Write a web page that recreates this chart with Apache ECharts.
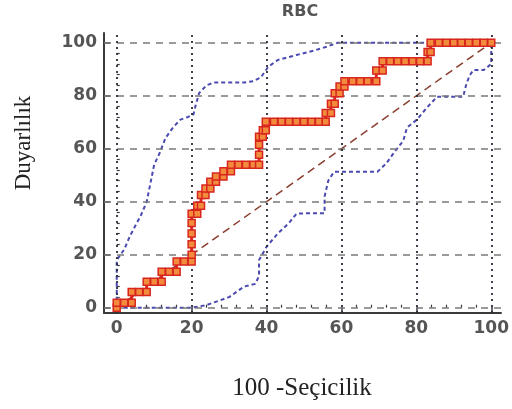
<!DOCTYPE html>
<html>
<head>
<meta charset="utf-8">
<script src="https://cdn.jsdelivr.net/npm/echarts@6/dist/echarts.min.js"></script>
<style>
  html, body { margin: 0; padding: 0; background: #ffffff; }
  #chart { width: 512px; height: 409px; }
</style>
</head>
<body>
<div id="chart"></div>
<script>
// Tick positions
const majorTicks = [0, 20, 40, 60, 80, 100];
const minorTicks = [4, 8, 12, 16, 24, 28, 32, 36, 44, 48, 52, 56, 64, 68, 72, 76, 84, 88, 92, 96];

// ROC curve for RBC: [100 - specificity, sensitivity]
const rocCurve = [
  [0, 0], [0, 1.9], [2, 1.9], [4, 1.9], [4, 5.9], [6, 5.9], [8, 5.9], [8, 9.8], [10, 9.8], [12, 9.8],
  [12, 13.6], [14, 13.6], [16, 13.6], [16, 17.4], [18, 17.4], [20, 17.4], [20, 20], [20, 24], [20, 28],
  [20, 32], [20, 35.5], [21.5, 35.5], [21.5, 38.5], [22.5, 38.5], [22.5, 42.5], [23.7, 42.5], [23.7, 45],
  [25, 45], [25, 47.5], [26.5, 47.5], [26.5, 49.5], [28.5, 49.5], [28.5, 51.5], [30.5, 51.5], [30.5, 54],
  [32.5, 54], [34.5, 54], [36.5, 54], [38, 54], [38, 57.7], [38, 61.5], [38, 64.5], [39, 64.5], [39, 67],
  [39.8, 67], [39.8, 70.2], [42, 70.2], [44, 70.2], [46, 70.2], [48, 70.2], [50, 70.2], [52, 70.2],
  [54, 70.2], [55.8, 70.2], [55.8, 73.5], [57.2, 73.5], [57.2, 77], [58.2, 77], [58.2, 81], [59.5, 81],
  [59.5, 83.5], [60.8, 83.5], [60.8, 85.5], [63, 85.5], [65, 85.5], [67, 85.5], [69.3, 85.5], [69.3, 89.5],
  [71, 89.5], [71, 93], [73, 93], [75, 93], [77, 93], [79, 93], [81, 93], [83, 93], [83, 96.5],
  [83.8, 96.5], [83.8, 100], [86, 100], [88, 100], [90, 100], [92, 100], [94, 100], [96, 100],
  [98, 100], [100, 100]
];

// 95% confidence bounds
const upperBound = [
  [0, 0], [0, 9], [0, 18], [2, 22], [3.5, 27], [5, 31], [6.5, 35], [8, 40], [9, 47], [10, 54],
  [11.5, 58.5], [13, 64], [15, 68], [17, 71], [19, 72], [20.5, 73], [21, 76], [22, 81], [24, 84],
  [26, 85], [30, 85], [34, 85], [36.5, 85.5], [38.5, 87], [40.5, 91], [43, 93.5], [48, 95.4],
  [53, 97.2], [56, 98.5], [59, 100], [100, 100]
];
const lowerBound = [
  [0, 0], [10, 0], [20, 0], [22, 0.5], [24, 1], [27, 2.5], [30, 4], [34, 8], [37, 9], [38, 12],
  [38, 18], [40, 23], [43, 28], [46, 32], [48, 35.5], [52, 35.7], [55.5, 35.7], [55.5, 42],
  [56.5, 48], [58, 51.3], [62, 51.3], [66, 51.3], [69.6, 51.3], [72, 54.5], [74, 58.5], [76.5, 63],
  [77.5, 68], [80, 70.8], [83, 75.8], [85.5, 79.6], [90, 79.6], [92.5, 79.6], [93.4, 84.7],
  [94.3, 87.8], [95.2, 89.7], [98, 89.7], [100, 92], [100, 100]
];

// Reference line of no discrimination
const diagonal = [[0, 0], [100, 100]];

const xMin = -3.4, xMax = 102.6;
const yMin = -2, yMax = 103.7;

const labelFont = { fontFamily: 'DejaVu Sans', fontWeight: 'bold', fontSize: 17, color: '#555' };
const axisColor = '#3a3a3a';

function mainAxis(min, max, extra) {
  return Object.assign({
    type: 'value', min: min, max: max,
    axisLine: { show: true, onZero: false, lineStyle: { color: axisColor, width: 2 } },
    axisTick: { show: true, inside: true, length: 6, customValues: majorTicks,
                lineStyle: { color: axisColor, width: 1.5 } },
    axisLabel: Object.assign({ customValues: majorTicks, margin: 7 }, labelFont),
    splitLine: { show: false }
  }, extra);
}
function minorAxis(min, max, extra) {
  return Object.assign({
    type: 'value', min: min, max: max, offset: 0,
    axisLine: { show: false },
    axisTick: { show: true, inside: true, length: 3, customValues: minorTicks,
                lineStyle: { color: axisColor, width: 1.2 } },
    axisLabel: { show: false },
    splitLine: { show: false }
  }, extra);
}

const hGrid = majorTicks.map(v => [{ coord: [xMin, v] }, { coord: [xMax, v] }]);
const vGrid = majorTicks.map(v => [{ coord: [v, yMin] }, { coord: [v, yMax] }]);

const chart = echarts.init(document.getElementById('chart'), null, { renderer: 'canvas' });
chart.setOption({
  animation: false,
  backgroundColor: '#ffffff',
  grid: { left: 104, right: 7, top: 33, bottom: 96 },
  xAxis: [
    mainAxis(xMin, xMax, { position: 'bottom' }),
    minorAxis(xMin, xMax, { position: 'bottom' })
  ],
  yAxis: [
    mainAxis(yMin, yMax, { position: 'left' }),
    minorAxis(yMin, yMax, { position: 'left' })
  ],
  graphic: [
    { type: 'text', x: 300, y: 12, z: 10,
      style: { text: 'RBC', font: 'bold 16px "DejaVu Sans"', fill: '#555',
               align: 'center', verticalAlign: 'middle' } },
    { type: 'text', x: 302, y: 388, z: 10,
      style: { text: '100 -Seçicilik', font: '25px "Liberation Serif"', fill: '#222',
               align: 'center', verticalAlign: 'middle' } },
    { type: 'text', x: 24, y: 143, rotation: Math.PI / 2, z: 10,
      style: { text: 'Duyarlılık', font: '23px "Liberation Serif"', fill: '#222',
               align: 'center', verticalAlign: 'middle' } }
  ],
  series: [
    {
      name: 'hgrid', type: 'line', data: [[-100, -100]], symbol: 'none', silent: true, z: 1,
      markLine: { silent: true, symbol: ['none', 'none'], label: { show: false },
        lineStyle: { color: '#7a7a7a', type: [7, 6], width: 1.5 }, data: hGrid }
    },
    {
      name: 'vgrid', type: 'line', data: [[-100, -100]], symbol: 'none', silent: true, z: 1,
      markLine: { silent: true, symbol: ['none', 'none'], label: { show: false },
        lineStyle: { color: '#2a2a3a', type: [2, 4], width: 1.8 }, data: vGrid }
    },
    {
      name: 'diagonal', type: 'line', data: diagonal, symbol: 'none', z: 2,
      lineStyle: { color: '#8b3e2f', type: [8, 5], width: 1.5 }
    },
    {
      name: 'upper', type: 'line', data: upperBound, symbol: 'none', z: 3,
      lineStyle: { color: '#4a4ab0', type: [4, 3], width: 2 }
    },
    {
      name: 'lower', type: 'line', data: lowerBound, symbol: 'none', z: 3,
      lineStyle: { color: '#4a4ab0', type: [4, 3], width: 2 }
    },
    {
      name: 'RBC', type: 'line', data: rocCurve, z: 5,
      symbol: 'rect', symbolSize: 7, showAllSymbol: true,
      itemStyle: { color: '#f28c3c', borderColor: '#d8261f', borderWidth: 1.5 },
      lineStyle: { color: '#e0261e', width: 3 }
    }
  ]
});
</script>
</body>
</html>
